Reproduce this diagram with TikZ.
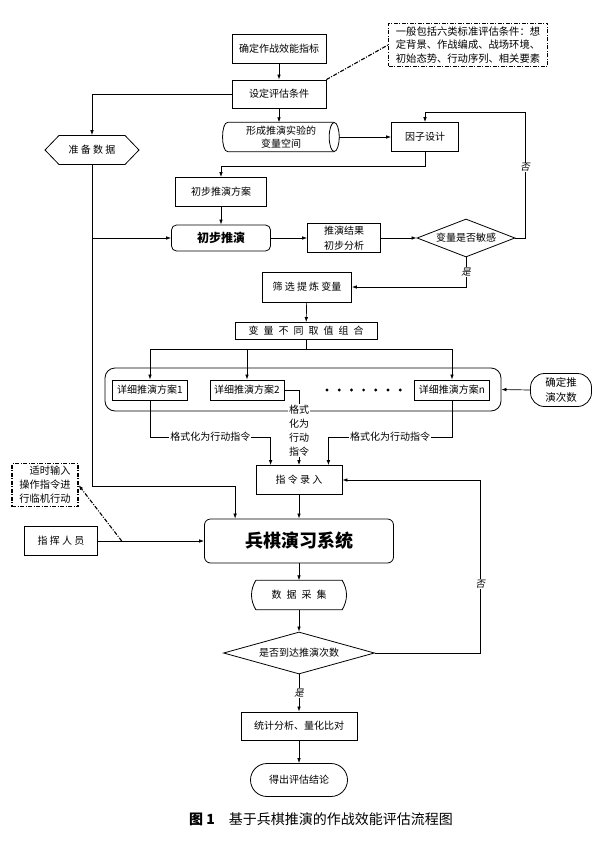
\documentclass[tikz,border=0pt]{standalone}
\usepackage{fontspec}
\setmainfont{Noto Sans CJK SC}
\newfontfamily\slantfont[FakeSlant=0.2]{Noto Sans CJK SC}
\usepackage{tikz}
\usetikzlibrary{positioning, arrows.meta, calc, shapes.geometric, shapes.symbols, shapes.misc}

\begin{document}
\begin{tikzpicture}[x=1pt, y=-1pt,
    base/.style={font=\fontsize{10}{13}\selectfont, inner sep=0pt, align=center},
    box/.style={base, draw, line width=0.8pt},
    arr/.style={line width=0.7pt, -{Latex[length=5pt,width=3.6pt]}},
    link/.style={line width=0.7pt},
    dashdot/.style={line width=1.1pt, dash pattern=on 4pt off 1.5pt on 1pt off 1.5pt},
    yesno/.style={base, fill=white, inner sep=0.6pt, font=\slantfont\fontsize{9.5}{10}\selectfont}]
    \useasboundingbox (0,0) rectangle (600,859);

    % Setting up the evaluation
    \node[box, minimum width=94, minimum height=29] (goal) at (279,48.5) {确定作战效能指标};
    \node[box, dashdot, align=left, minimum width=159, minimum height=43,
          font=\fontsize{10.3}{13.5}\selectfont] (condnote) at (468,45)
          {一般包括六类标准评估条件：想\\定背景、作战编成、战场环境、\\初始态势、行动序列、相关要素};
    \node[box, minimum width=94, minimum height=28] (cond) at (279,94) {设定评估条件};
    \node[box, signal, signal to=west and east, signal pointer angle=92,
          minimum width=94, minimum height=29] (data) at (92,150) {准 备 数 据};
    % variable space (lying cylinder)
    \node[base, minimum width=116, minimum height=29] (space) at (281,137) {形成推演实验的\\变量空间};
    \draw[line width=0.8pt] ([xshift=-5]space.north east) -- ([xshift=5]space.north west)
        .. controls ([xshift=-2]space.north west) and ([xshift=-2]space.south west) .. ([xshift=5]space.south west)
        -- ([xshift=-5]space.south east);
    \draw[line width=0.8pt] ([xshift=-5]space.east) ellipse (5 and 14.5);
    \node[box, minimum width=67, minimum height=29] (factor) at (425,137) {因子设计};
    \node[box, minimum width=91, minimum height=29] (draft) at (221,192) {初步推演方案};

    % First trial run
    \node[box, rounded corners=5pt, minimum width=99, minimum height=26,
          font=\bfseries\fontsize{12}{14}\selectfont] (trial) at (221,238) {初步推演};
    \node[box, minimum width=73, minimum height=29, font=\fontsize{10}{15}\selectfont] (result) at (344,238) {推演结果\\初步分析};
    \node[box, diamond, aspect=2.6, minimum width=98, minimum height=38] (sens) at (466,238) {变量是否敏感};
    \node[box, minimum width=89, minimum height=30] (pick) at (307,287) {筛 选 提 炼 变量};
    \node[box, minimum width=142, minimum height=17] (combo) at (306,331)
          {变\enspace 量\enspace 不\enspace 同\enspace 取\enspace 值\enspace 组\enspace 合};

    % Detailed plans
    \node[draw, line width=0.8pt, rounded corners=10pt, minimum width=396, minimum height=43] (group) at (303,389.5) {};
    \node[box, minimum width=75, minimum height=20] (plan1) at (150,390) {详细推演方案1};
    \node[box, minimum width=74, minimum height=20] (plan2) at (247,390) {详细推演方案2};
    \node[box, minimum width=75, minimum height=20] (plann) at (452,390) {详细推演方案n};
    \foreach \i in {0,...,6}
        \fill (327+\i*12.2,390) circle (1.6pt);
    \node[box, rounded corners=14pt, minimum width=61, minimum height=33,
          font=\fontsize{10.5}{15}\selectfont] (runs) at (561,390) {确定推\\演次数};

    % Wargame run
    \node[box, minimum width=86, minimum height=29] (input) at (299,480) {指 令 录 入};
    \node[box, dashdot, align=right, minimum width=66, minimum height=43,
          font=\fontsize{10.2}{14}\selectfont] (timely) at (45,485) {适时输入\\操作指令进\\行临机行动};
    \node[box, minimum width=73, minimum height=29] (staff) at (61,541) {指 挥 人 员};
    \node[box, rounded corners=6pt, minimum width=189, minimum height=44,
          font=\bfseries\fontsize{18}{20}\selectfont] (sys) at (299,541) {兵棋演习系统};
    \node[base, minimum width=86, minimum height=29] (collect) at (299,595) {数\enspace 据\enspace 采\enspace 集};
    \draw[line width=0.8pt] (collect.north west) -- (collect.north east) to[bend left=30] (collect.south east)
        -- (collect.south west) to[bend left=30] (collect.north west);
    \node[box, diamond, aspect=3.6, minimum width=151, minimum height=42] (reach) at (299,653) {是否到达推演次数};
    \node[box, minimum width=116, minimum height=28] (stats) at (299,726) {统计分析、量化比对};
    \node[box, rounded rectangle, minimum width=97, minimum height=33] (final) at (299,780) {得出评估结论};
    \node[base, font=\fontsize{14}{16}\selectfont] (caption) at (321,819) {\textbf{图 1}\quad 基于兵棋推演的作战效能评估流程图};

    % Connectors
    \draw[arr] (goal) -- (cond);
    \draw[dashdot] (cond.north east) -- (condnote.west);
    \draw[arr] (cond.west) -| (data.north);
    \draw[arr] (cond.south) -- (cond.south |- space.north);
    \draw[arr] (space.east) -- (factor.west);
    \coordinate (loopA) at (525,112);
    \draw[arr] (sens.east) -| node[yesno, pos=0.78] {否} (loopA) -| (factor.north);
    \draw[arr] (factor.south) -- ++(0,14) -| (draft.north);
    \draw[arr] (draft) -- (trial);
    \coordinate (dataEnd) at (92,486);
    \draw[arr] (data.south) -- (dataEnd) -| ([xshift=31]sys.north west);
    \draw[arr] (data.south |- trial.west) -- (trial.west);
    \draw[arr] (trial) -- (result);
    \draw[arr] (result) -- (sens);
    \draw[arr] (sens.south) |- node[yesno, pos=0.25] {是} (pick.east);
    \draw[arr] (pick) -- (combo);
    \draw[link] (combo.south) -- ++(0,9) coordinate (fork);
    \draw[link] (plan1.north |- fork) -- (plann.north |- fork);
    \foreach \p in {plan1, plan2, plann}
        \draw[arr] (\p.north |- fork) -- (\p.north);
    \draw[arr] (runs.west) -- (group.east);

    \coordinate (fmtrow) at (0,437);
    \coordinate (inL) at ([xshift=15]input.north west);
    \coordinate (inR) at ([xshift=-14]input.north east);
    \draw[arr] (plan1.south) -- (plan1.south |- fmtrow)
        -- node[base, fill=white, inner sep=1pt] {格式化为行动指令} (inL |- fmtrow) -- (inL);
    \draw[arr] (plann.south) -- (plann.south |- fmtrow)
        -- node[base, fill=white, inner sep=1pt] {格式化为行动指令} (inR |- fmtrow) -- (inR);
    \draw[arr] (plan2.east) -| node[base, fill=white, inner sep=1pt, pos=0.77,
        font=\fontsize{10}{14}\selectfont] {格式\\化为\\行动\\指令} (input.north);
    \draw[arr] (reach.east) -| node[yesno, pos=0.7] {否} ([xshift=138]input.east) -- (input.east);

    \draw[arr] (input) -- (sys);
    \draw[arr] (staff) -- (sys);
    \path (staff.east) -- (sys.west) coordinate[pos=0.224] (tap);
    \draw[dashdot, -{Latex[length=5pt,width=3.6pt]}] (tap) -- (timely.east);
    \draw[arr] (sys) -- (collect);
    \draw[arr] (collect) -- (reach);
    \draw[arr] (reach) -- node[yesno] {是} (stats);
    \draw[arr] (stats) -- (final);
\end{tikzpicture}
\end{document}
